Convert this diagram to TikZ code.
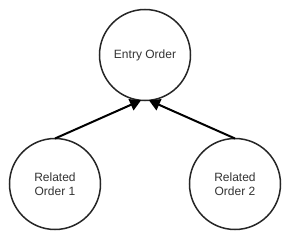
\documentclass[tikz,border=0pt]{standalone}
\usepackage{fontspec}
\setmainfont{Liberation Sans}
\usetikzlibrary{arrows.meta}
\begin{document}
\begin{tikzpicture}[x=1pt,y=1pt,
  circ/.style={circle,draw=black!85,line width=1.5pt,minimum size=91pt,inner sep=0pt,outer sep=0pt,font=\fontsize{12}{14}\selectfont,align=center,text=black!80},
  link/.style={line width=2pt,-{Triangle[length=11pt,width=12pt]}}]
\useasboundingbox (0,0) rectangle (306,250);
\node[circ] (e) at (145,195) {Entry Order};
\node[circ] (r1) at (55,66) {Related\\Order 1};
\node[circ] (r2) at (235,66) {Related\\Order 2};
\draw[link] (r1.north) -- (e.265);
\draw[link] (r2.north) -- (e.275);
\end{tikzpicture}
\end{document}
